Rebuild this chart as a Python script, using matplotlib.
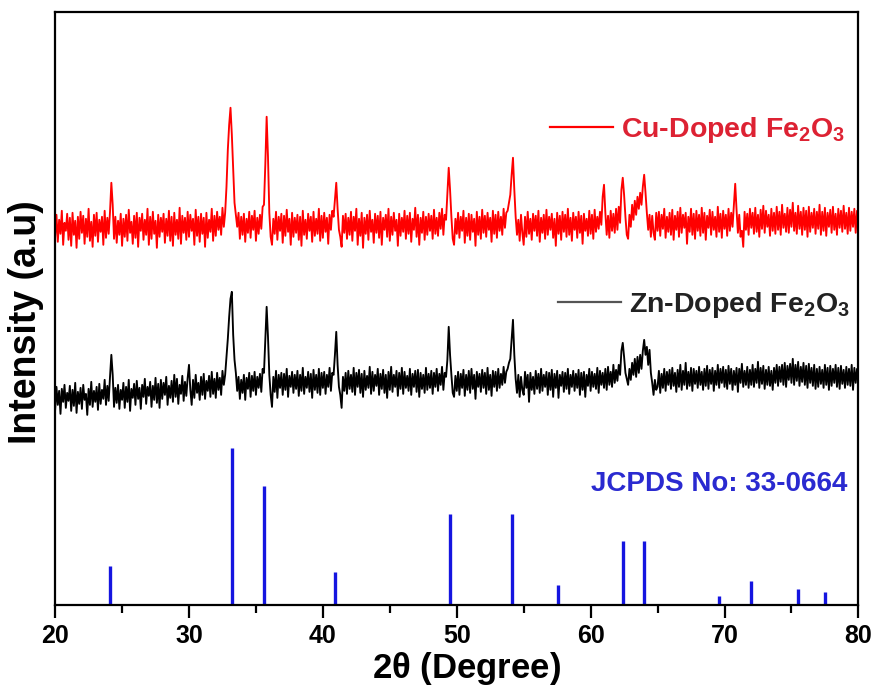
import numpy as np
import matplotlib
matplotlib.use("Agg")
import matplotlib.pyplot as plt
from matplotlib.ticker import MultipleLocator

plt.rcParams['font.family'] = ['Liberation Sans', 'DejaVu Sans']
plt.rcParams['font.weight'] = 'bold'
plt.rcParams['mathtext.fontset'] = 'custom'
plt.rcParams['mathtext.bf'] = 'Liberation Sans:bold'
plt.rcParams['mathtext.rm'] = 'Liberation Sans:bold'
plt.rcParams['mathtext.default'] = 'bf'

# 2theta grid, 0.1 deg steps from 20 to 80
two_theta = np.round(np.arange(20.0, 80.001, 0.1), 1)

# Zn-doped Fe2O3 (arbitrary units), one row per degree
zn_counts = [
    25, 48, 30, 44, 21, 46, 33, 50, 27, 42,
    34, 49, 24, 45, 29, 52, 22, 43, 31, 47,
    26, 50, 35, 41, 20, 46, 30, 53, 28, 44,
    33, 48, 25, 51, 31, 45, 36, 55, 30, 49,
    34, 58, 80, 60, 28, 47, 32, 50, 26, 45,
    35, 52, 27, 48, 33, 55, 24, 46, 37, 51,
    30, 54, 36, 47, 26, 50, 38, 56, 31, 48,
    39, 53, 28, 49, 35, 57, 32, 51, 27, 55,
    36, 52, 40, 58, 30, 49, 37, 54, 33, 60,
    38, 56, 31, 50, 41, 59, 34, 53, 39, 57,
    70, 45, 30, 55, 37, 60, 42, 52, 35, 58,
    40, 61, 36, 54, 44, 59, 38, 63, 41, 56,
    37, 62, 45, 57, 40, 64, 50, 60, 78, 96,
    118, 136, 143, 100, 75, 62, 44, 58, 36, 55,
    42, 60, 35, 57, 46, 62, 38, 59, 44, 63,
    40, 58, 47, 61, 43, 66, 62, 95, 128, 98,
    60, 40, 28, 58, 43, 64, 37, 60, 47, 62,
    40, 61, 45, 66, 38, 59, 48, 63, 42, 60,
    46, 64, 39, 60, 44, 67, 41, 58, 47, 63,
    43, 61, 37, 65, 45, 60, 42, 66, 40, 62,
    47, 63, 41, 60, 48, 67, 44, 62, 60, 80,
    103, 70, 48, 40, 27, 58, 44, 62, 41, 64,
    46, 60, 43, 67, 40, 62, 48, 65, 42, 61,
    38, 64, 45, 59, 47, 68, 41, 63, 44, 60,
    49, 66, 40, 61, 46, 65, 42, 60, 37, 63,
    45, 68, 43, 60, 48, 64, 39, 62, 46, 67,
    41, 63, 47, 59, 44, 66, 40, 61, 48, 64,
    43, 65, 38, 62, 46, 60, 42, 67, 45, 61,
    47, 64, 41, 62, 48, 66, 44, 61, 50, 68,
    45, 62, 58, 75, 108, 80, 60, 42, 38, 59,
    44, 63, 40, 61, 47, 65, 39, 60, 45, 64,
    42, 66, 46, 60, 36, 63, 48, 61, 43, 65,
    47, 62, 41, 67, 45, 60, 39, 64, 48, 63,
    44, 66, 47, 61, 50, 68, 52, 63, 66, 72,
    76, 95, 115, 80, 56, 42, 60, 38, 58, 45,
    40, 63, 47, 60, 33, 62, 45, 58, 41, 64,
    46, 61, 42, 66, 44, 60, 48, 63, 40, 62,
    45, 65, 38, 61, 47, 64, 37, 60, 49, 63,
    43, 62, 46, 66, 41, 60, 48, 64, 44, 61,
    47, 65, 40, 62, 45, 63, 38, 60, 49, 66,
    44, 63, 48, 61, 46, 67, 42, 64, 50, 62,
    47, 66, 45, 68, 50, 63, 48, 70, 52, 65,
    54, 70, 60, 84, 92, 78, 62, 56, 50, 66,
    55, 72, 60, 76, 58, 78, 62, 80, 66, 84,
    95, 80, 88, 70, 85, 62, 52, 40, 55, 45,
    48, 64, 42, 61, 47, 66, 44, 63, 50, 65,
    46, 67, 49, 62, 43, 65, 48, 70, 45, 64,
    50, 72, 46, 63, 49, 67, 44, 66, 51, 64,
    47, 68, 50, 63, 45, 66, 49, 69, 46, 65,
    51, 67, 44, 64, 50, 70, 47, 66, 52, 68,
    48, 65, 46, 69, 51, 66, 45, 64, 50, 67,
    43, 66, 52, 71, 48, 64, 50, 68, 47, 65,
    50, 70, 48, 66, 52, 73, 47, 67, 51, 69,
    46, 65, 50, 68, 49, 64, 45, 67, 52, 70,
    49, 68, 53, 70, 50, 72, 48, 69, 55, 71,
    52, 76, 50, 70, 54, 73, 49, 68, 53, 72,
    50, 69, 47, 71, 52, 67, 49, 70, 46, 66,
    48, 68, 51, 65, 47, 70, 50, 67, 45, 69,
    49, 66, 52, 70, 48, 67, 46, 69, 51, 65,
    47, 68, 50, 66, 49, 70, 45, 67, 52, 66,
    56,
]

# Cu-doped Fe2O3
cu_counts = [
    38, 60, 33, 55, 41, 64, 30, 52, 44, 61,
    35, 57, 29, 62, 40, 54, 27, 58, 36, 63,
    42, 59, 31, 56, 38, 66, 34, 53, 28, 60,
    39, 62, 33, 55, 43, 58, 30, 64, 37, 57,
    41, 63, 92, 70, 36, 58, 32, 54, 40, 61,
    29, 56, 38, 60, 34, 65, 42, 53, 31, 59,
    37, 62, 28, 57, 44, 61, 35, 55, 40, 66,
    30, 58, 36, 63, 41, 54, 27, 60, 38, 57,
    43, 61, 32, 56, 39, 64, 34, 58, 29, 62,
    40, 55, 36, 67, 31, 59, 42, 57, 35, 63,
    38, 60, 44, 56, 30, 65, 39, 58, 33, 61,
    41, 57, 28, 62, 37, 55, 43, 66, 34, 59,
    39, 63, 45, 58, 40, 67, 48, 62, 88, 125,
    150, 167, 140, 105, 72, 60, 48, 62, 36, 58,
    40, 61, 33, 56, 42, 63, 37, 59, 45, 64,
    34, 57, 41, 60, 46, 68, 70, 110, 158, 118,
    62, 38, 30, 56, 41, 63, 35, 58, 44, 61,
    32, 59, 39, 65, 43, 56, 30, 62, 38, 57,
    42, 60, 35, 58, 29, 64, 40, 55, 36, 61,
    44, 58, 33, 63, 39, 56, 41, 66, 34, 59,
    37, 62, 43, 57, 31, 60, 45, 64, 58, 75,
    92, 66, 45, 38, 28, 59, 42, 61, 36, 57,
    40, 63, 34, 58, 44, 66, 30, 56, 39, 62,
    27, 57, 41, 60, 35, 64, 43, 55, 32, 61,
    42, 59, 37, 63, 30, 57, 45, 60, 38, 66,
    34, 58, 40, 62, 44, 55, 29, 61, 39, 57,
    43, 64, 36, 59, 41, 62, 33, 56, 45, 67,
    38, 60, 30, 57, 42, 63, 35, 58, 40, 61,
    44, 59, 36, 65, 41, 57, 39, 62, 46, 66,
    40, 60, 55, 80, 107, 85, 58, 36, 30, 56,
    41, 62, 37, 58, 44, 64, 32, 57, 39, 61,
    35, 60, 43, 56, 29, 63, 40, 58, 36, 65,
    42, 59, 38, 62, 45, 57, 33, 64, 41, 60,
    37, 63, 44, 58, 40, 66, 47, 62, 64, 72,
    80, 100, 117, 85, 58, 40, 55, 34, 60, 42,
    30, 58, 38, 63, 41, 56, 35, 61, 44, 59,
    39, 64, 33, 57, 42, 60, 36, 65, 40, 58,
    45, 61, 37, 56, 29, 62, 41, 59, 35, 63,
    43, 60, 38, 66, 40, 57, 34, 62, 45, 58,
    37, 63, 42, 59, 31, 61, 44, 56, 39, 64,
    41, 60, 36, 65, 43, 58, 46, 63, 50, 78,
    90, 62, 40, 59, 37, 64, 44, 61, 42, 66,
    45, 68, 52, 85, 97, 80, 58, 40, 36, 60,
    48, 70, 55, 74, 60, 78, 66, 82, 70, 88,
    100, 82, 62, 45, 60, 38, 59, 42, 35, 62,
    44, 63, 39, 60, 46, 66, 37, 58, 43, 62,
    40, 65, 35, 59, 45, 63, 38, 67, 42, 60,
    47, 62, 31, 58, 43, 66, 40, 61, 36, 64,
    44, 60, 39, 67, 42, 62, 35, 59, 47, 65,
    40, 63, 45, 58, 38, 68, 43, 61, 37, 64,
    46, 60, 39, 66, 44, 62, 48, 70, 91, 65,
    42, 60, 38, 44, 28, 63, 45, 61, 40, 66,
    47, 62, 41, 67, 43, 60, 38, 65, 46, 69,
    42, 64, 48, 60, 39, 66, 44, 62, 41, 68,
    45, 63, 40, 70, 47, 61, 43, 67, 42, 65,
    48, 72, 44, 62, 41, 69, 46, 63, 40, 67,
    45, 64, 38, 68, 43, 62, 47, 66, 41, 63,
    46, 70, 40, 63, 44, 67, 39, 62, 48, 65,
    42, 68, 45, 61, 40, 66, 47, 64, 43, 69,
    46, 62, 41, 67, 44, 63, 48, 66, 42, 64,
    55,
]

# JCPDS 33-0664 reference lines (relative intensity)
jcpds_pos = [24.1, 33.2, 35.6, 40.9, 49.5, 54.1, 57.6, 62.4, 64.0, 69.6, 72.0, 75.5, 77.5]
jcpds_int = [25, 100, 76, 21, 58, 58, 13, 41, 41, 6, 15, 10, 8]

assert len(zn_counts) == len(two_theta) == len(cu_counts)

zn_offset = 170
cu_offset = 330
ref_scale = 1.57

fig = plt.figure(figsize=(8.75, 6.89), dpi=100)
ax = fig.add_axes([0.063, 0.122, 0.918, 0.861])

line_cu, = ax.plot(two_theta, np.array(cu_counts) + cu_offset, color='#ff0000', lw=1.35)
line_zn, = ax.plot(two_theta, np.array(zn_counts) + zn_offset, color='black', lw=1.35)
ax.vlines(jcpds_pos, 0, np.array(jcpds_int) * ref_scale, color='#1515e0', lw=2.4)

ax.set_xlim(20, 80)
ax.set_ylim(0, 593)
ax.set_yticks([])
ax.xaxis.set_major_locator(MultipleLocator(10))
ax.xaxis.set_minor_locator(MultipleLocator(5))
ax.tick_params(axis='x', which='major', direction='out', length=9, width=1.6,
               labelsize=18, pad=5)
ax.tick_params(axis='x', which='minor', direction='out', length=5.5, width=1.6)
for lab in ax.get_xticklabels():
    lab.set_fontweight('bold')
for sp in ax.spines.values():
    sp.set_linewidth(1.6)

ax.set_xlabel(r'2$\theta$ (Degree)', fontsize=25, fontweight='bold')
ax.xaxis.set_label_coords(0.512, -0.076)
ax.set_ylabel('Intensity (a.u)', fontsize=27, fontweight='bold')
ax.yaxis.set_label_coords(-0.014, 0.477)

leg1 = ax.legend([line_cu], [r'Cu-Doped Fe$_2$O$_3$'], loc='center right',
                 bbox_to_anchor=(0.984, 0.80), frameon=False, fontsize=20.5,
                 handlelength=2.2, handletextpad=0.3, borderpad=0, borderaxespad=0,
                 labelcolor='#dd2233')
for l in leg1.get_lines():
    l.set_linewidth(1.6)
ax.add_artist(leg1)
leg2 = ax.legend([line_zn], [r'Zn-Doped Fe$_2$O$_3$'], loc='center right',
                 bbox_to_anchor=(0.990, 0.505), frameon=False, fontsize=20.5,
                 handlelength=2.2, handletextpad=0.3, borderpad=0, borderaxespad=0,
                 labelcolor='#222222')
for l in leg2.get_lines():
    l.set_linewidth(1.6)
    l.set_color('#555555')

ax.text(0.986, 0.204, 'JCPDS No: 33-0664', transform=ax.transAxes, ha='right',
        va='center', fontsize=20, fontweight='bold', color='#2a2ad0')

fig.savefig('out.png', dpi=100)
